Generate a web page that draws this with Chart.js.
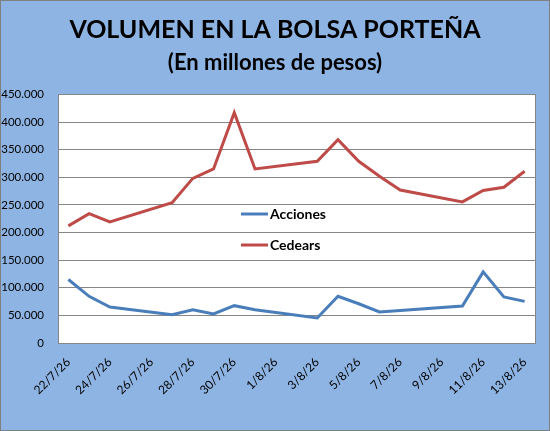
<!DOCTYPE html>
<html><head><meta charset="utf-8">
<script src="https://cdn.jsdelivr.net/npm/chart.js@4/dist/chart.umd.min.js"></script>
<style>html,body{margin:0;padding:0;background:#8EB4E3;}#wrap{width:550px;height:431px;}</style>
</head><body><div id="wrap"><canvas id="c" width="550" height="431"></canvas></div>
<script>
const titleText = 'VOLUMEN EN LA BOLSA PORTEÑA';
const subtitleText = '(En millones de pesos)';
const categories = ['22/7/26','23/7/26','24/7/26','25/7/26','26/7/26','27/7/26','28/7/26','29/7/26','30/7/26','31/7/26','1/8/26','2/8/26','3/8/26','4/8/26','5/8/26','6/8/26','7/8/26','8/8/26','9/8/26','10/8/26','11/8/26','12/8/26','13/8/26'];
const acciones = [115000, 84500, 65200, null, null, 51300, 60300, 52600, 67600, 60300, null, null, 45300, 84500, 71000, 56200, 59000, null, null, 67000, 128700, 83400, 75400];
const cedears = [212000, 234000, 219000, null, null, 254000, 298000, 315000, 417000, 315000, null, null, 329000, 368000, 329000, 302000, 277000, null, null, 255500, 276000, 282000, 311000];
const seriesNames = ['Acciones','Cedears'];
const yMax = 450000, yStep = 50000;

const FONT = 'Lato';
function fmt(v){ return String(v).replace(/\B(?=(\d{3})+(?!\d))/g,'.'); }

const bgPlugin = {
  id:'bg',
  beforeDraw(chart){
    const ctx = chart.ctx, a = chart.chartArea;
    ctx.save();
    ctx.fillStyle = '#8EB4E3';
    ctx.fillRect(0,0,chart.width,chart.height);
    ctx.strokeStyle = '#7F7F7F'; ctx.lineWidth = 1;
    ctx.strokeRect(0.5,0.5,chart.width-1,chart.height-1);
    ctx.fillStyle = '#FFFFFF';
    ctx.fillRect(a.left,a.top,a.right-a.left,a.bottom-a.top);
    ctx.restore();
  },
  afterDatasetsDraw(chart){
    const ctx = chart.ctx, a = chart.chartArea;
    ctx.save();
    ctx.strokeStyle = '#868686'; ctx.lineWidth = 1;
    ctx.strokeRect(Math.round(a.left)+0.5, Math.round(a.top)+0.5, Math.round(a.right-a.left), Math.round(a.bottom-a.top));
    // legend inside plot area
    const x0 = 241, x1 = 268, ys = [214, 245];
    chart.data.datasets.forEach((ds,i)=>{
      ctx.strokeStyle = ds.borderColor; ctx.lineWidth = 3;
      ctx.beginPath(); ctx.moveTo(x0, ys[i]); ctx.lineTo(x1, ys[i]); ctx.stroke();
      ctx.fillStyle = '#000'; ctx.font = 'bold 14px ' + FONT;
      ctx.textBaseline = 'middle'; ctx.textAlign = 'left';
      ctx.fillText(ds.label, x1 + 2, ys[i]);
    });
    ctx.restore();
  }
};

new Chart(document.getElementById('c'), {
  type:'line',
  data:{
    labels: categories,
    datasets:[
      {label: seriesNames[0], data: acciones, borderColor:'#4A7EBB', backgroundColor:'#4A7EBB', borderWidth:3, pointRadius:0, tension:0, spanGaps:true},
      {label: seriesNames[1], data: cedears, borderColor:'#BE4B48', backgroundColor:'#BE4B48', borderWidth:3, pointRadius:0, tension:0, spanGaps:true}
    ]
  },
  options:{
    responsive:false, animation:false,
    layout:{padding:{left:0,right:0,top:0,bottom:0}},
    plugins:{
      legend:{display:false},
      tooltip:{enabled:false},
      title:{display:true, text:titleText, color:'#000', font:{family:FONT, size:25, weight:'bold'}, padding:{top:15,bottom:0}},
      subtitle:{display:true, text:subtitleText, color:'#000', font:{family:FONT, size:22, weight:'bold'}, padding:{top:5,bottom:18}}
    },
    scales:{
      x:{
        type:'category', offset:true,
        grid:{display:false, drawTicks:false},
        border:{display:true, color:'#868686'},
        ticks:{autoSkip:false, minRotation:45, maxRotation:45, color:'#000', font:{family:FONT, size:12}, padding:12,
          callback:(v,i)=> i%2===0 ? categories[i] : null},
        afterFit(s){ s.height = 88; }
      },
      y:{
        min:0, max:yMax,
        grid:{color:'#868686', lineWidth:1, drawTicks:false},
        border:{display:true, color:'#868686'},
        ticks:{stepSize:yStep, color:'#000', font:{family:FONT, size:11.5}, padding:14, callback:v=>fmt(v)},
        afterFit(s){ s.width = 58; }
      },
      yRight:{
        position:'right', min:0, max:yMax,
        grid:{display:false, drawTicks:false},
        border:{display:false},
        ticks:{display:false},
        afterFit(s){ s.width = 15; }
      }
    }
  },
  plugins:[bgPlugin]
});
</script></body></html>
